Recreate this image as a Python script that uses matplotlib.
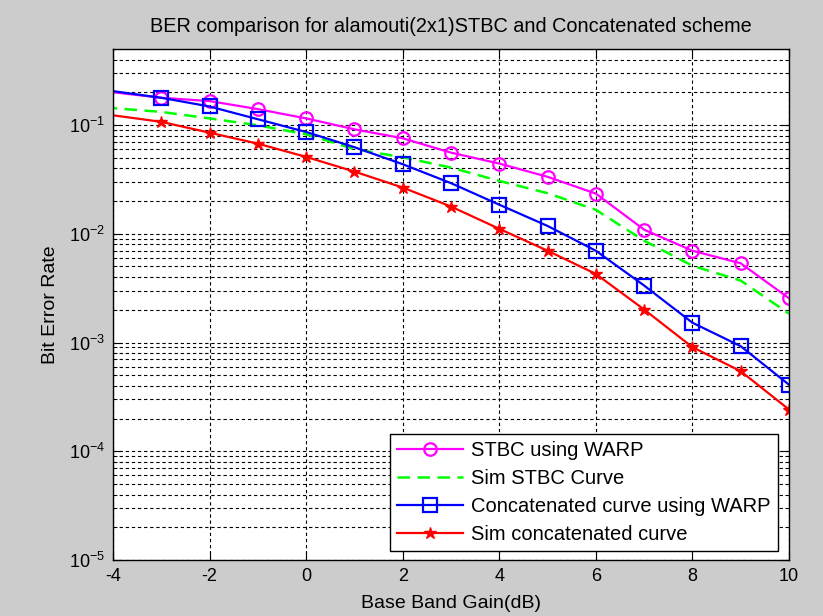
import numpy as np
import matplotlib
matplotlib.use("Agg")
import matplotlib.pyplot as plt
from matplotlib.ticker import LogLocator, FixedLocator, NullFormatter

plt.rcParams['font.family'] = ['Liberation Sans', 'DejaVu Sans']
plt.rcParams['mathtext.default'] = 'regular'

gain_db = [-5, -3, -2, -1, 0, 1, 2, 3, 4, 5, 6, 7, 8, 9, 10]
stbc_warp = [0.225, 0.178, 0.166, 0.14, 0.115, 0.0913, 0.0755, 0.0557, 0.0442,
             0.0334, 0.0234, 0.0109, 0.00698, 0.00535, 0.00255]
sim_stbc = [0.155, 0.132, 0.115, 0.0994, 0.0822, 0.060, 0.0505, 0.0406, 0.0306,
            0.0236, 0.0166, 0.00863, 0.00508, 0.00371, 0.00184]
concat_warp = [0.236, 0.178, 0.148, 0.113, 0.0863, 0.0625, 0.0436, 0.0292, 0.0185,
               0.0118, 0.00698, 0.00334, 0.00152, 0.000925, 0.000409]
sim_concat = [0.141, 0.107, 0.085, 0.0674, 0.0509, 0.0373, 0.0266, 0.0178, 0.0111,
              0.00698, 0.00427, 0.00201, 0.000906, 0.000545, 0.000242]

labels = ['STBC using WARP', 'Sim STBC Curve', 'Concatenated curve using WARP',
          'Sim concatenated curve']
title = 'BER comparison for alamouti(2x1)STBC and Concatenated scheme'
xticks = [-4, -2, 0, 2, 4, 6, 8, 10]
yticks = [1e-5, 1e-4, 1e-3, 1e-2, 1e-1]
ytick_labels = ['$10^{-5}$', '$10^{-4}$', '$10^{-3}$', '$10^{-2}$', '$10^{-1}$']

fig = plt.figure(figsize=(8.23, 6.16), dpi=100, facecolor='#cccccc')
ax = fig.add_axes([113/823, 1-560/616, (789-113)/823, (560-49)/616])
ax.set_facecolor('white')

ax.semilogy(gain_db, stbc_warp, '-o', color='#ff00ff', lw=1.6, ms=9,
            mfc='none', mew=1.6, label=labels[0])
ax.semilogy(gain_db, sim_stbc, '--', color='#00ff00', lw=1.8, dashes=(5, 3),
            label=labels[1])
ax.semilogy(gain_db, concat_warp, '-s', color='#0000ff', lw=1.6, ms=10,
            mfc='none', mew=1.6, label=labels[2])
ax.semilogy(gain_db, sim_concat, '-*', color='#ff0000', lw=1.6, ms=9,
            label=labels[3])

ax.set_xlim(-4, 10)
ax.set_ylim(1e-5, 0.5)
ax.set_xticks(xticks)
ax.set_xticklabels([str(t) for t in xticks])
ax.yaxis.set_major_locator(FixedLocator(yticks))
ax.set_yticklabels(ytick_labels)
ax.yaxis.set_minor_locator(LogLocator(base=10, subs=np.arange(2, 10), numticks=20))
ax.yaxis.set_minor_formatter(NullFormatter())

ax.grid(True, which='major', axis='x', color='black', ls=(0, (3, 2.5)), lw=0.8)
ax.grid(True, which='both', axis='y', color='black', ls=(0, (3, 2.5)), lw=0.8)
ax.tick_params(which='both', direction='in', top=True, right=True, labelsize=13,
               colors='black')
ax.tick_params(which='major', length=6, pad=6)
ax.tick_params(which='minor', length=3)
for s in ax.spines.values():
    s.set_linewidth(1.0)

ax.set_title(title, fontsize=14.3, pad=12)
ax.set_xlabel('Base Band Gain(dB)', fontsize=14, labelpad=7)
ax.set_ylabel('Bit Error Rate', fontsize=14, labelpad=7)

leg = ax.legend(loc='lower right', bbox_to_anchor=(1 - 11/676, 9/511), borderaxespad=0,
                fancybox=False, edgecolor='black', framealpha=1, fontsize=14.5,
                handlelength=3.3, labelspacing=0.45, borderpad=0.35, handletextpad=0.4)
leg.get_frame().set_linewidth(1.0)

fig.savefig('out.png', dpi=100, facecolor=fig.get_facecolor())
